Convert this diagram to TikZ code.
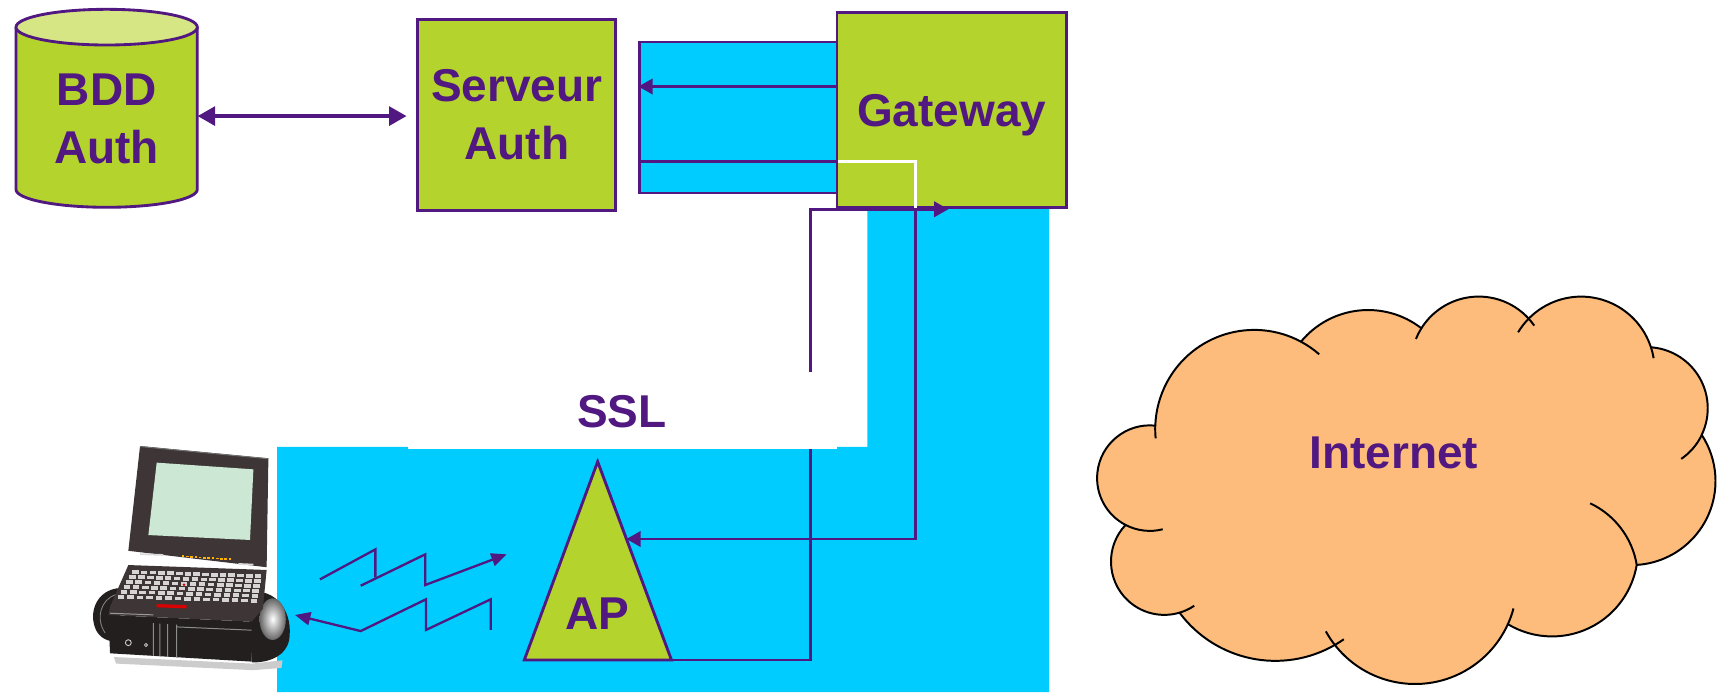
\documentclass[tikz,border=0pt]{standalone}
\usepackage{fontspec}
\setmainfont{Liberation Sans}
\usetikzlibrary{arrows.meta,calc}

\definecolor{ink}{RGB}{80,24,128}
\definecolor{leaf}{RGB}{181,211,45}
\definecolor{leaftop}{RGB}{214,230,132}
\definecolor{sky}{RGB}{0,204,255}
\definecolor{peach}{RGB}{253,188,124}
\definecolor{casing}{RGB}{62,54,54}
\definecolor{casingdk}{RGB}{36,31,31}
\definecolor{lcd}{RGB}{204,232,212}
\definecolor{keygray}{RGB}{214,212,212}

\begin{document}
\begin{tikzpicture}[x=1pt,y=-1pt,
  inkline/.style={draw=ink, line width=2.6pt},
  box/.style={inkline, fill=leaf},
  arr/.style={inkline, -{Triangle[length=13pt,width=14pt]}},
  dbl/.style={draw=ink, line width=3.6pt,
    {Triangle[length=16pt,width=17pt]}-{Triangle[length=16pt,width=17pt]}},
  radio/.style={draw=ink, line width=2.1pt},
  radioarr/.style={radio, -{Triangle[length=14pt,width=12pt]}},
  lbl/.style={text=ink, font={\bfseries\fontsize{42}{53}\selectfont},
    align=center, inner sep=0pt},
  cloudline/.style={draw=black, line width=1.8pt},
]
\useasboundingbox (0,0) rectangle (1568,632);

% ---------- cyan zone around the access point and the gateway drop
\fill[sky] (253,408) -- (792,408) -- (792,188) -- (958,188) -- (958,632) -- (253,632) -- cycle;

% ---------- cyan channel between server and gateway
\node[draw=ink, line width=2.6pt, fill=sky, minimum width=180pt, minimum height=138pt,
      inner sep=0pt, anchor=north west] (tunnel) at (583,37) {};

% ---------- authentication server
\node[box, lbl, minimum width=180.5pt, minimum height=174.7pt] (srv) at (471.9,105) {Serveur\\Auth};

% ---------- database cylinder
\node[minimum width=165.6pt, minimum height=180.8pt, inner sep=0pt] (bdd) at (97.4,98.9) {};
\fill[leaf] (14.6,24.8) -- (14.6,173)
  arc[start angle=180, end angle=0, x radius=82.8, y radius=16.3] -- (180.2,24.8) -- cycle;
\draw[inkline] (14.6,24.8) -- (14.6,173)
  arc[start angle=180, end angle=0, x radius=82.8, y radius=16.3] -- (180.2,24.8);
\draw[inkline, fill=leaftop] (97.4,24.8) ellipse[x radius=82.8, y radius=16.3];
\node[lbl] (bddtext) at (97.4,108.8) {BDD\\Auth};

\draw[dbl, shorten >=9pt] (bdd.east |- 0,106) -- (srv.west |- 0,106);

% ---------- access point corners
\coordinate (apL) at (478.8,602.7);
\coordinate (apT) at (545.8,421.6);
\coordinate (apR) at (613.2,602.7);
\coordinate (apin) at ($(apT)!0.39!(apR)$);

% ---------- lower line of the channel
\draw[inkline] (tunnel.west |- 0,147.6) -- (tunnel.east |- 0,147.6);

% ---------- gateway
\node[box, lbl, text depth=0pt, minimum width=209.5pt, minimum height=178.5pt,
      anchor=north west] (gw) at (763,10) {Gateway};
\coordinate (gwhook) at ($(gw.south west)+(-23,0)$);
\coordinate (gwtap) at ($(gw.south west)+(73,0)$);

% channel line crossing the gateway (white) and dropping to the AP
\draw[white, line width=2.6pt] (tunnel.east |- 0,147.6) -| (gwtap);
\draw[arr] (gw.west |- 0,79) -- (tunnel.west |- 0,79);

% AP back to the gateway
\draw[arr] (apR) -- (apR -| gwhook) -- (gwhook) -- ($(gw.south west)+(103,0)$);

% ---------- SSL label on white
\fill[white] (373,339.4) rectangle (764,410.3);
\node[lbl, text depth=0pt] (ssl) at (568,376) {SSL};

% ---------- access point
\path[box] (apL) -- (apT) -- (apR) -- cycle;
\node[lbl, text depth=0pt] (ap) at (545.8,560) {AP};
\draw[arr] (gwtap) |- (apin);

% ---------- radio links
\draw[radio] (292.2,529.1) -- (342.8,501.7) -- (342.8,527.3);
\draw[radioarr] (329.4,534.9) -- (388.4,506.2) -- (388.4,534.2) -- (462.7,506.2);
\draw[radioarr] (448.1,575.3) -- (448.1,547.3) -- (389,575.3) -- (389,547.3)
  -- (329.4,576.3) -- (269.4,561.6);

% ---------- laptop
% shadow
\fill[black!20] (104,600) -- (230,606) -- (258,603) -- (257,610) -- (231,612) -- (106,606) -- cycle;
% side rollers
\fill[casingdk] (110,537) .. controls (88,538) and (80,560) .. (88,576)
  .. controls (93,585) and (103,587) .. (110,585) -- cycle;
\draw[black!50, line width=0.8pt] (106,543) .. controls (92,547) and (87,565) .. (96,578);
\fill[casingdk] (226,540) .. controls (254,537) and (268,560) .. (264,585)
  .. controls (261,598) and (248,605) .. (230,605) -- cycle;
\shade[inner color=white, outer color=black!60] (249,565.4) ellipse[x radius=12, y radius=19];
% base front
\fill[casingdk] (98.9,561.6) -- (229.8,567.7) -- (229.8,604.2) -- (100.5,596.6) -- cycle;
\draw[black!45, line width=0.9pt] (140,569) -- (140,599) (146.1,569.5) -- (146.1,599.5)
  (153.1,570) -- (153.1,600) (161.3,570.5) -- (161.3,600.5) (161.3,572.5) -- (229.8,575.5);
\draw[white!80!black, line width=0.8pt] (117.2,586.9) circle[radius=2.7];
\draw[white!80!black, line width=0.7pt] (133.3,589) circle[radius=1.4];
% keyboard deck
\fill[casing] (117.2,516) -- (243.5,520.5) -- (240,556) -- (229.8,567.7) -- (98.9,561.6)
  -- (100.5,554) -- cycle;
\draw[black!40, line width=0.9pt] (100.5,560) -- (140,561.5);
\coordinate (kTL) at (121,520);
\coordinate (kTR) at (240,524);
\coordinate (kBL) at (105,547);
\coordinate (kBR) at (236,551);
\foreach \r in {0,...,5} {
  \foreach \c in {0,...,14} {
    \pgfmathsetmacro\p{(\c+0.5)/15}
    \pgfmathsetmacro\q{(\r+0.5)/6}
    \fill[keygray] ($($(kTL)!\p!(kTR)$)!\q!($(kBL)!\p!(kBR)$)$) ++(-3,-1.6) rectangle ++(6,3.3);
  }
}
\fill[red!85!black] (168,534) circle[radius=1.3];
\fill[red!85!black] (143,551.6) -- (170.5,552.6) -- (170.5,555.6) -- (143,554.6) -- cycle;
% lid and screen
\fill[casing] (127.9,407.3) -- (245.1,418.5) -- (243.5,518) -- (117.2,503) -- cycle;
\draw[black!55, line width=0.8pt] (127.9,407.8) -- (245.1,419);
\fill[lcd] (143.1,422.5) -- (231.4,428.6) -- (228.3,493.1) -- (135.5,488.6) -- cycle;
\foreach \i in {0,...,11}
  \fill[orange!60!yellow] ($(166,507.2)+(\i*3.9,0.25*\i)$) rectangle ++(2.4,1.6);
\fill[white!85!black] (127.9,505.2) -- (149.2,506) -- (149.2,507.6) -- (127.9,506.8) -- cycle;
\fill[white!85!black] (217.7,514.2) -- (231.4,514.8) -- (231.4,516.4) -- (217.7,515.8) -- cycle;

% ---------- Internet cloud: one circular bump after another
\path[fill=peach, draw=black, line width=1.8pt, line join=round]
  (1055,388.7)
  arc[start angle=-84.1,  end angle=-242.6, radius=48.17]
  arc[start angle=-136.6, end angle=-286.6, radius=48.69]
  arc[start angle=143.4,  end angle=60.1,   radius=108.99]
  arc[start angle=141.9,  end angle=24.4,   radius=93.08]
  arc[start angle=121.0,  end angle=9.6,    radius=78.4]
  arc[start angle=86.4,   end angle=-33.3,  radius=76.76]
  arc[start angle=25.7,   end angle=-85.9,  radius=55.9]
  arc[start angle=-18.1,  end angle=-135.5, radius=67.1]
  arc[start angle=-42.4,  end angle=-147.9, radius=61.8]
  arc[start angle=-52.2,  end angle=-140.5, radius=79.4]
  arc[start angle=-61.8,  end angle=-178.1, radius=90.4]
  -- cycle;
% inner ends of the bumps
\draw[cloudline] (1027.9,479.4) arc[start angle=-242.6, end angle=-284.1, radius=48.17];
\draw[cloudline] (1077.2,559.5) arc[start angle=-286.6, end angle=-304.1, radius=48.69];
\draw[cloudline] (1219,589) arc[start angle=60.1, end angle=55, radius=108.99];
\draw[cloudline] (1219,589) arc[start angle=141.9, end angle=151.1, radius=93.08];
\draw[cloudline] (1377,570) arc[start angle=24.4, end angle=15, radius=93.08];
\draw[cloudline] (1494.7,515.9) arc[start angle=-9.4, end angle=-64.8, radius=75.9];
\draw[cloudline] (1554.1,397.2) arc[start angle=25.7, end angle=55.6, radius=55.9];
\draw[cloudline] (1507.7,317.2) arc[start angle=-18.1, end angle=-9.4, radius=67.1];
\draw[cloudline] (1396,291) arc[start angle=-135.5, end angle=-149, radius=67.1];
\draw[cloudline] (1396,291) arc[start angle=-42.4, end angle=-34.8, radius=61.8];
\draw[cloudline] (1298,299.8) arc[start angle=-147.9, end angle=-158, radius=61.8];
\draw[cloudline] (1188,312) arc[start angle=-61.8, end angle=-48.9, radius=90.4];
\draw[cloudline] (1055,388.7) arc[start angle=-178.1, end angle=-185.5, radius=90.4];
\node[lbl, text depth=0pt] (inet) at (1273,413) {Internet};

\end{tikzpicture}
\end{document}
